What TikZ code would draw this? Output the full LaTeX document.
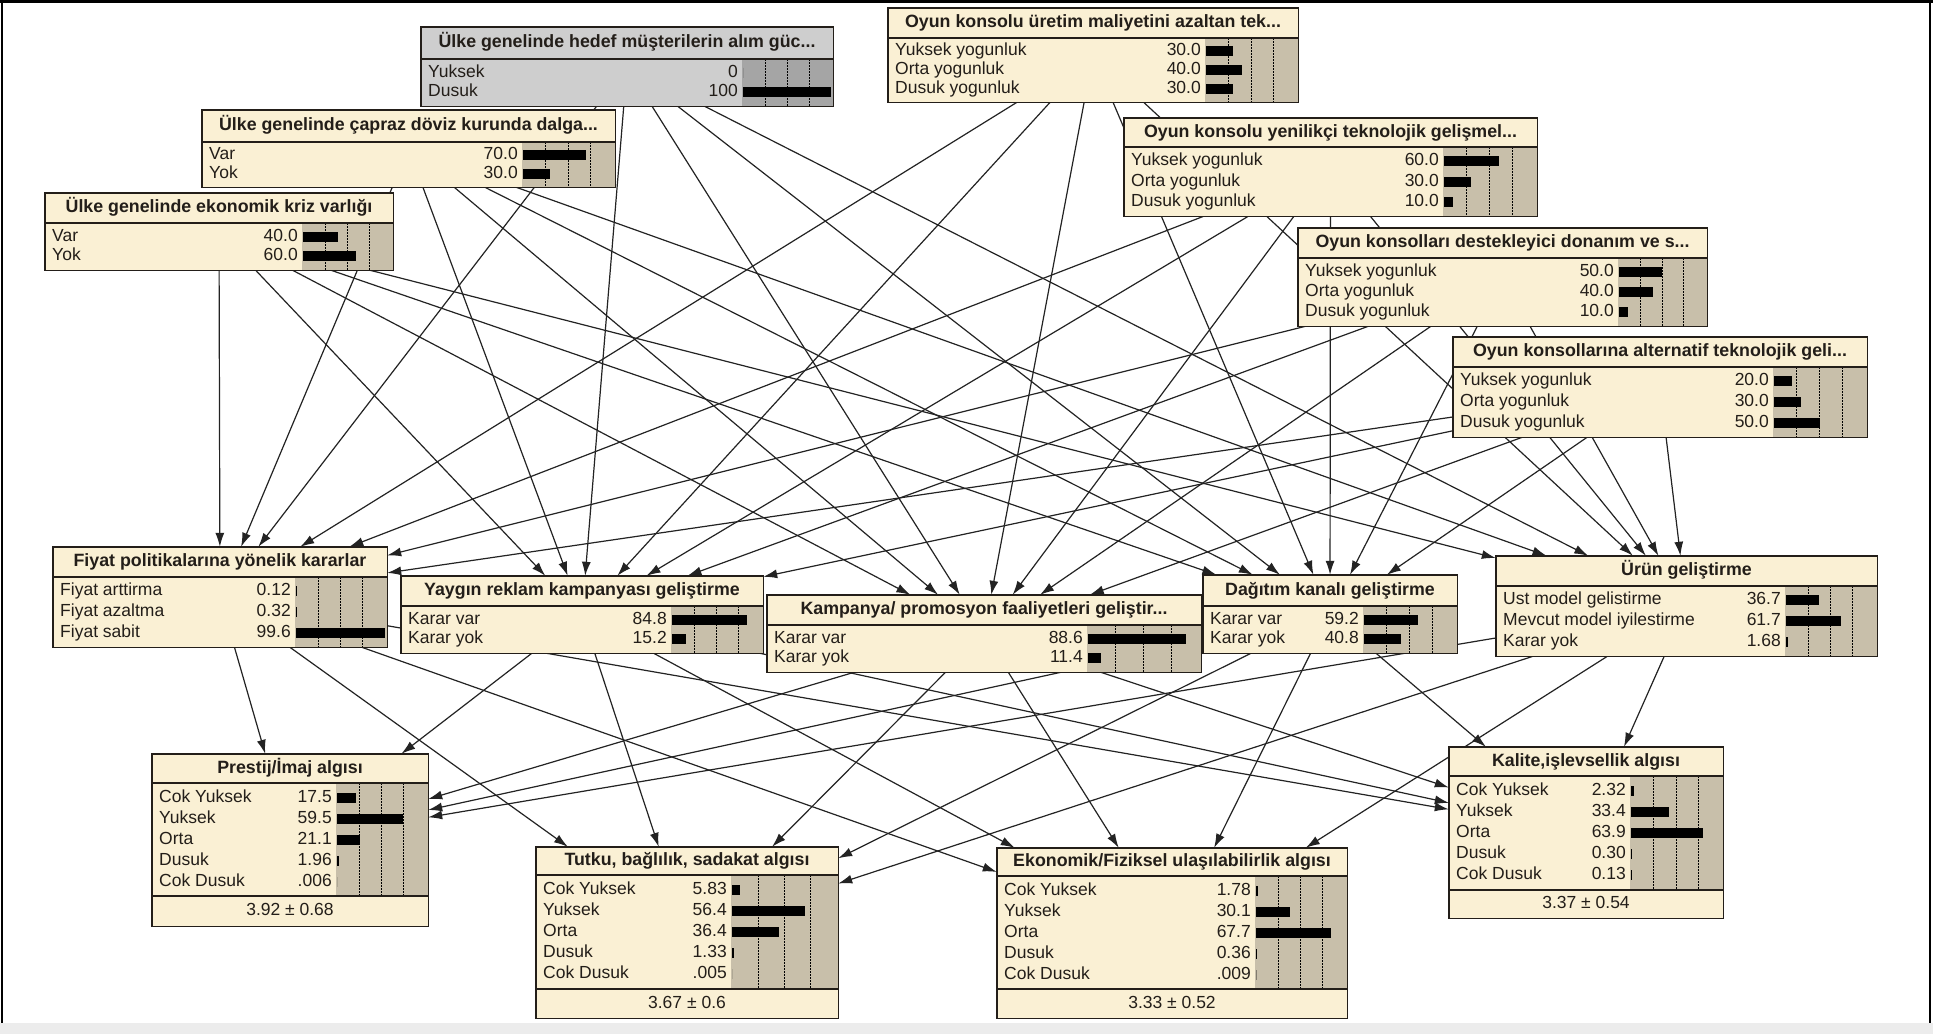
\documentclass[tikz,border=0pt]{standalone}
\usepackage{fontspec}
\setmainfont{Liberation Sans}
\usetikzlibrary{fit,backgrounds,arrows.meta}

\definecolor{nodecream}{RGB}{250,240,212}
\definecolor{nodebar}{RGB}{200,191,170}
\definecolor{nodegray}{RGB}{206,206,206}
\definecolor{nodegraybar}{RGB}{165,165,165}
\definecolor{inkdark}{RGB}{35,30,25}
\definecolor{linkline}{RGB}{35,35,35}
\definecolor{framegray}{RGB}{236,236,236}

\tikzset{
  titletext/.style={font=\bfseries\fontsize{17.8}{20}\selectfont, text=inkdark, inner sep=0pt, text height=12.5pt, text depth=3.5pt},
  statetext/.style={font=\fontsize{17.5}{20}\selectfont, text=inkdark, inner sep=0pt, text height=12.5pt, text depth=3.5pt},
  boxline/.style={draw=inkdark, line width=1.4pt},
  gridline/.style={black, line width=0.9pt, dash pattern=on 1.5pt off 1.5pt},
  link/.style={draw=linkline, line width=1.2pt, -{Latex[length=14pt,width=9pt]}},
}

\newcommand\nodefill{nodecream}
\newcommand\barfill{nodebar}
\newcommand\barscale{1}

% #1 name, #2 x1, #3 y1, #4 x2, #5 y2, #6 title bottom, #7 bar left, #8 states bottom, #9 title
\newcommand\bnnode[9]{%
  \xdef\Lx{#2}\xdef\Rx{#4}\xdef\Tb{#6}\xdef\Bx{#7}\xdef\Sb{#8}\xdef\Yb{#5}%
  \node[fit={(#2,#3) (#4,#5)}, inner sep=0pt, fill=\nodefill] (#1) {};
  \fill[\barfill] (#7,#6) rectangle (#4,#8);
  \foreach \q in {0.25,0.5,0.75}{\draw[gridline] ({#7+1+(#4-#7-3)*\q},#6) -- ({#7+1+(#4-#7-3)*\q},#8);}
  \draw[boxline] (#2,#6) -- (#4,#6);
  \node[titletext] at ({(#2+#4)/2},{(#3+#6)/2}) {#9};
  \draw[boxline] (#1.north west) rectangle (#1.south east);
}

% #1 row, #2 rows, #3 label, #4 value, #5 percent
\newcommand\bnstate[5]{%
  \pgfmathsetmacro\rowy{\Tb+4+(\Sb-\Tb-8)/#2*(#1-0.5)}%
  \pgfmathsetmacro\barlen{(\Rx-\Bx-3)*#5/100*\barscale}%
  \node[statetext, anchor=west] at (\Lx+7,\rowy) {#3};
  \node[statetext, anchor=east] at (\Bx-4,\rowy) {#4};
  \fill[black] (\Bx+1,\rowy-5) rectangle ++(\barlen,10);
}

% expected value row
\newcommand\bnmean[1]{%
  \draw[boxline] (\Lx,\Sb) -- (\Rx,\Sb);
  \node[statetext] at ({(\Lx+\Rx)/2},{(\Sb+\Yb)/2}) {#1};
}

\begin{document}
\begin{tikzpicture}[x=1pt,y=-1pt]
\useasboundingbox (0,0) rectangle (1933,1034);

% ---- root nodes ----
\renewcommand\nodefill{nodegray}\renewcommand\barfill{nodegraybar}
\bnnode{alim}{421}{27}{833}{106}{59}{742}{106}{Ülke genelinde hedef müşterilerin alım güc...}
\bnstate{1}{2}{Yuksek}{0}{0}
\bnstate{2}{2}{Dusuk}{100}{100}
\renewcommand\nodefill{nodecream}\renewcommand\barfill{nodebar}

\bnnode{maliyet}{888}{8}{1298}{102}{38}{1205}{102}{Oyun konsolu üretim maliyetini azaltan tek...}
\bnstate{1}{3}{Yuksek yogunluk}{30.0}{30}
\bnstate{2}{3}{Orta yogunluk}{40.0}{40}
\bnstate{3}{3}{Dusuk yogunluk}{30.0}{30}

\bnnode{doviz}{202}{110}{615}{187}{142}{522}{187}{Ülke genelinde çapraz döviz kurunda dalga...}
\bnstate{1}{2}{Var}{70.0}{70}
\bnstate{2}{2}{Yok}{30.0}{30}

\bnnode{kriz}{45}{193}{393}{270}{223}{302}{270}{Ülke genelinde ekonomik kriz varlığı}
\bnstate{1}{2}{Var}{40.0}{40}
\bnstate{2}{2}{Yok}{60.0}{60}

\bnnode{yenilik}{1124}{118}{1537}{216}{147}{1443}{216}{Oyun konsolu yenilikçi teknolojik gelişmel...}
\bnstate{1}{3}{Yuksek yogunluk}{60.0}{60}
\bnstate{2}{3}{Orta yogunluk}{30.0}{30}
\bnstate{3}{3}{Dusuk yogunluk}{10.0}{10}

\bnnode{donanim}{1298}{228}{1707}{326}{258}{1618}{326}{Oyun konsolları destekleyici donanım ve s...}
\bnstate{1}{3}{Yuksek yogunluk}{50.0}{50}
\bnstate{2}{3}{Orta yogunluk}{40.0}{40}
\bnstate{3}{3}{Dusuk yogunluk}{10.0}{10}

\bnnode{alternatif}{1453}{337}{1867}{437}{367}{1773}{437}{Oyun konsollarına alternatif teknolojik geli...}
\bnstate{1}{3}{Yuksek yogunluk}{20.0}{20}
\bnstate{2}{3}{Orta yogunluk}{30.0}{30}
\bnstate{3}{3}{Dusuk yogunluk}{50.0}{50}

% ---- decision nodes ----
\bnnode{fiyat}{53}{547}{387}{647}{577}{295}{647}{Fiyat politikalarına yönelik kararlar}
\bnstate{1}{3}{Fiyat arttirma}{0.12}{0.12}
\bnstate{2}{3}{Fiyat azaltma}{0.32}{0.32}
\bnstate{3}{3}{Fiyat sabit}{99.6}{99.6}

\bnnode{reklam}{401}{576}{763}{653}{606}{671}{653}{Yaygın reklam kampanyası geliştirme}
\bnstate{1}{2}{Karar var}{84.8}{84.8}
\bnstate{2}{2}{Karar yok}{15.2}{15.2}

\bnnode{kampanya}{767}{595}{1201}{672}{625}{1087}{672}{Kampanya/ promosyon faaliyetleri geliştir...}
\bnstate{1}{2}{Karar var}{88.6}{88.6}
\bnstate{2}{2}{Karar yok}{11.4}{11.4}

\bnnode{dagitim}{1203}{575}{1457}{653}{606}{1363}{653}{Dağıtım kanalı geliştirme}
\bnstate{1}{2}{Karar var}{59.2}{59.2}
\bnstate{2}{2}{Karar yok}{40.8}{40.8}

\bnnode{urun}{1496}{556}{1877}{656}{586}{1785}{656}{Ürün geliştirme}
\bnstate{1}{3}{Ust model gelistirme}{36.7}{36.7}
\bnstate{2}{3}{Mevcut model iyilestirme}{61.7}{61.7}
\bnstate{3}{3}{Karar yok}{1.68}{1.68}

% ---- perception nodes ----
\renewcommand\barscale{1.25}
\bnnode{prestij}{152}{754}{428}{926}{783}{336}{896}{Prestij/İmaj algısı}
\bnstate{1}{5}{Cok Yuksek}{17.5}{17.5}
\bnstate{2}{5}{Yuksek}{59.5}{59.5}
\bnstate{3}{5}{Orta}{21.1}{21.1}
\bnstate{4}{5}{Dusuk}{1.96}{1.96}
\bnstate{5}{5}{Cok Dusuk}{.006}{0.006}
\bnmean{3.92 ± 0.68}

\bnnode{tutku}{536}{847}{838}{1018}{875}{731}{989}{Tutku, bağlılık, sadakat algısı}
\bnstate{1}{5}{Cok Yuksek}{5.83}{5.83}
\bnstate{2}{5}{Yuksek}{56.4}{56.4}
\bnstate{3}{5}{Orta}{36.4}{36.4}
\bnstate{4}{5}{Dusuk}{1.33}{1.33}
\bnstate{5}{5}{Cok Dusuk}{.005}{0.005}
\bnmean{3.67 ± 0.6}

\bnnode{ekonomik}{997}{848}{1347}{1018}{876}{1255}{989}{Ekonomik/Fiziksel ulaşılabilirlik algısı}
\bnstate{1}{5}{Cok Yuksek}{1.78}{1.78}
\bnstate{2}{5}{Yuksek}{30.1}{30.1}
\bnstate{3}{5}{Orta}{67.7}{67.7}
\bnstate{4}{5}{Dusuk}{0.36}{0.36}
\bnstate{5}{5}{Cok Dusuk}{.009}{0.009}
\bnmean{3.33 ± 0.52}

\bnnode{kalite}{1449}{747}{1723}{918}{776}{1630}{890}{Kalite,işlevsellik algısı}
\bnstate{1}{5}{Cok Yuksek}{2.32}{2.32}
\bnstate{2}{5}{Yuksek}{33.4}{33.4}
\bnstate{3}{5}{Orta}{63.9}{63.9}
\bnstate{4}{5}{Dusuk}{0.30}{0.30}
\bnstate{5}{5}{Cok Dusuk}{0.13}{0.13}
\bnmean{3.37 ± 0.54}

% ---- links, behind the nodes ----
\begin{scope}[on background layer]
  \fill[white] (0,0) rectangle (1933,1034);
  \foreach \s in {alim,maliyet,doviz,kriz,yenilik,donanim,alternatif}
    \foreach \t in {fiyat,reklam,kampanya,dagitim,urun}
      \draw[link] (\s) -- (\t);
  \foreach \s in {fiyat,reklam,kampanya,dagitim,urun}
    \foreach \t in {prestij,tutku,ekonomik,kalite}
      \draw[link] (\s) -- (\t);
\end{scope}

% ---- window frame ----
\fill[framegray] (0,1023) rectangle (1933,1034);
\draw[black, line width=2.5pt] (0,1.5) -- (1933,1.5);
\draw[black, line width=1.5pt] (2,0) -- (2,1023);
\draw[black, line width=1.5pt] (1930,0) -- (1930,1023);
\end{tikzpicture}
\end{document}
